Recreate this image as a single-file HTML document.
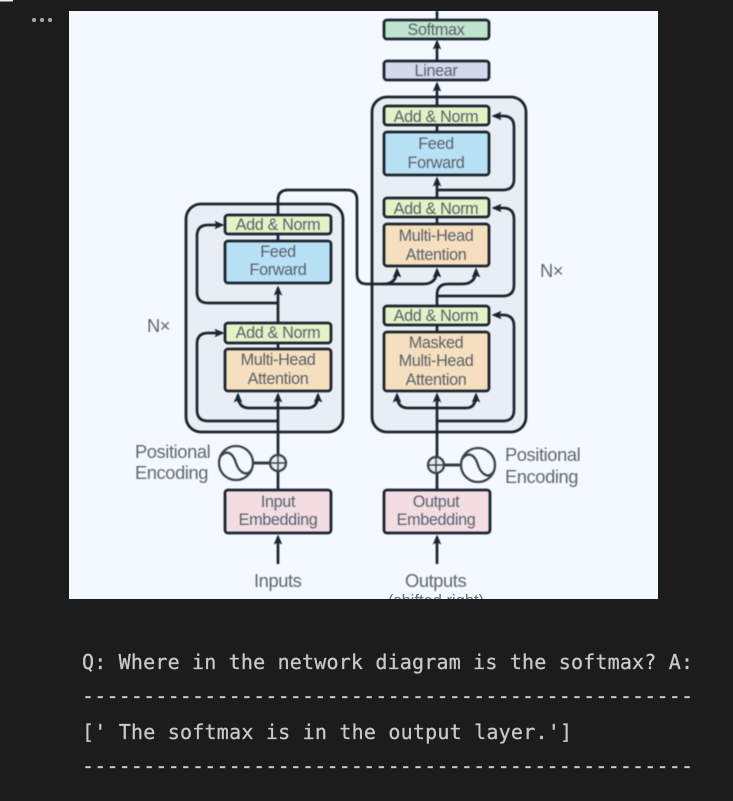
<!DOCTYPE html>
<html><head><meta charset="utf-8"><style>
html,body{margin:0;padding:0;background:#1c1c1c;width:733px;height:801px;overflow:hidden}
svg{display:block}
.d{filter:blur(.45px)}
.d text{font-family:"Liberation Sans",sans-serif;font-size:16.2px;fill:#58616a;text-anchor:middle;letter-spacing:-.35px}
.d .l{font-size:18.3px;fill:#5f6770;text-anchor:start;letter-spacing:-.4px}
.m{font-family:"DejaVu Sans Mono","Liberation Mono",monospace;font-size:20px;fill:#cacaca;stroke:#cacaca;stroke-width:.25px;filter:blur(.35px)}
.b{stroke:#1b2530;stroke-width:2.8}
.w{fill:none;stroke:#1b2530;stroke-width:2.7}
</style></head><body>
<svg width="733" height="801" viewBox="0 0 733 801" xmlns="http://www.w3.org/2000/svg">
<defs><marker id="a" markerWidth="11" markerHeight="10" refX="7.5" refY="5" orient="auto" markerUnits="userSpaceOnUse"><path d="M0 .7L10 5L0 9.3L2 5Z" fill="#1b2530"/></marker></defs>
<rect width="733" height="801" fill="#1c1c1c"/>
<rect x="0" y="0" width="13" height="1.5" fill="#eee"/>
<circle cx="34" cy="20" r="2" fill="#aaa"/><circle cx="42" cy="20" r="2" fill="#aaa"/><circle cx="50" cy="20" r="2" fill="#aaa"/>
<rect x="69" y="11" width="589" height="588" fill="#f3f9fe"/>
<g class="d">
<rect x="186" y="204" width="157" height="228" rx="15" fill="#e9eef4" class="b"/>
<rect x="372" y="97" width="154" height="335" rx="15" fill="#e9eef4" class="b"/>

<path class="w" d="M437 11V19"/>
<path class="w" marker-end="url(#a)" d="M437 60V42"/>
<path class="w" marker-end="url(#a)" d="M437 106V84"/>
<path class="w" marker-end="url(#a)" d="M437 198V179"/>
<path class="w" d="M437 125V132M437 217V224M437 325V332"/>
<path class="w" marker-end="url(#a)" d="M437 190H503Q514 190 514 179V127Q514 116 503 116H494"/>
<path class="w" marker-end="url(#a)" d="M437 296H503Q514 296 514 285V219Q514 208 503 208H494"/>
<path class="w" marker-end="url(#a)" d="M437 421H503Q514 421 514 410V326Q514 315 503 315H494"/>
<path class="w" d="M437 305V295Q437 284 448 284H462"/>
<path class="w" marker-end="url(#a)" d="M462 284Q476 284 476 270"/>
<path class="w" marker-end="url(#a)" d="M278 215V200Q278 190 288 190H347Q357 190 357 200V274Q357 284 367 284H423Q437 284 437 270"/>
<path class="w" marker-end="url(#a)" d="M383 284Q397 284 397 270"/>
<path class="w" marker-end="url(#a)" d="M437 490V395"/>
<path class="w" marker-end="url(#a)" d="M437 408H408Q397 408 397 395"/>
<path class="w" marker-end="url(#a)" d="M437 408H466Q476 408 476 395"/>
<path class="w" marker-end="url(#a)" d="M437 564V537"/>

<path class="w" d="M278 234V241M278 343V349"/>
<path class="w" marker-end="url(#a)" d="M278 323V288"/>
<path class="w" marker-end="url(#a)" d="M278 303H208Q197 303 197 292V236Q197 225 208 225H222"/>
<path class="w" marker-end="url(#a)" d="M278 421H208Q197 421 197 410V344Q197 333 208 333H222"/>
<path class="w" marker-end="url(#a)" d="M278 490V395"/>
<path class="w" marker-end="url(#a)" d="M278 408H249Q238 408 238 395"/>
<path class="w" marker-end="url(#a)" d="M278 408H307Q318 408 318 395"/>
<path class="w" marker-end="url(#a)" d="M278 564V537"/>

<rect x="384" y="20" width="105" height="19" rx="3" fill="#c0e4cd" class="b"/>
<rect x="384" y="61" width="105" height="19" rx="3" fill="#d3daee" class="b"/>
<rect x="384" y="106" width="105" height="19" rx="3" fill="#e5f2c8" class="b"/>
<rect x="384" y="132" width="105" height="43" rx="3" fill="#b9e1f6" class="b"/>
<rect x="384" y="198" width="105" height="19" rx="3" fill="#e5f2c8" class="b"/>
<rect x="384" y="224" width="105" height="42" rx="3" fill="#f6dfbe" class="b"/>
<rect x="384" y="306" width="105" height="19" rx="3" fill="#e5f2c8" class="b"/>
<rect x="384" y="332" width="105" height="59" rx="3" fill="#f6dfbe" class="b"/>
<rect x="225" y="215" width="106" height="19" rx="3" fill="#e5f2c8" class="b"/>
<rect x="225" y="241" width="106" height="42" rx="3" fill="#b9e1f6" class="b"/>
<rect x="225" y="323" width="106" height="20" rx="3" fill="#e5f2c8" class="b"/>
<rect x="225" y="349" width="106" height="42" rx="3" fill="#f6dfbe" class="b"/>
<rect x="225" y="490" width="106" height="43" rx="3" fill="#f3dde3" class="b"/>
<rect x="384" y="490" width="106" height="43" rx="3" fill="#f3dde3" class="b"/>

<path d="M253 463H270M444 465H461" stroke="#333c45" stroke-width="3"/>
<g fill="none" stroke="#3a434c" stroke-width="2.3">
<circle cx="278" cy="463" r="8" fill="#e9eef4"/><path d="M270 463H286M278 455V471" stroke-width="1.5"/>
<circle cx="436" cy="465" r="8" fill="#e9eef4"/><path d="M428 465H444M436 457V473" stroke-width="1.5"/>
<circle cx="236" cy="463" r="17" fill="#f3f9fe"/><path d="M220 457C228 447 234 456 236 463S246 479 252 469"/>
<circle cx="478" cy="465" r="17" fill="#f3f9fe"/><path d="M462 459C470 449 476 458 478 465S488 481 494 471"/>
</g>

<text x="436" y="35">Softmax</text>
<text x="436" y="76">Linear</text>
<text x="436" y="122">Add &amp; Norm</text>
<text x="436" y="149">Feed</text>
<text x="436" y="168">Forward</text>
<text x="436" y="214">Add &amp; Norm</text>
<text x="436" y="241">Multi-Head</text>
<text x="436" y="260">Attention</text>
<text x="436" y="321">Add &amp; Norm</text>
<text x="436" y="348">Masked</text>
<text x="436" y="366">Multi-Head</text>
<text x="436" y="385">Attention</text>
<text x="278" y="230">Add &amp; Norm</text>
<text x="278" y="257">Feed</text>
<text x="278" y="275">Forward</text>
<text x="278" y="338">Add &amp; Norm</text>
<text x="278" y="365">Multi-Head</text>
<text x="278" y="384">Attention</text>
<text x="278" y="507">Input</text>
<text x="278" y="525">Embedding</text>
<text x="436" y="507">Output</text>
<text x="436" y="525">Embedding</text>
<text class="l" x="135" y="458">Positional</text>
<text class="l" x="135" y="479">Encoding</text>
<text class="l" x="505" y="461">Positional</text>
<text class="l" x="505" y="483">Encoding</text>
<text class="l" x="147" y="332">N×</text>
<text class="l" x="540" y="277">N×</text>
<text class="l" x="254" y="587">Inputs</text>
<text class="l" x="405" y="587">Outputs</text>
</g>
<svg x="69" y="11" width="589" height="588" viewBox="69 11 589 588"><text x="436" y="606" style="font-family:'Liberation Sans',sans-serif;font-size:16.5px;fill:#646c74;text-anchor:middle">(shifted right)</text></svg>

<text class="m" x="82" y="669" textLength="611" lengthAdjust="spacing">Q: Where in the network diagram is the softmax? A:</text>
<text class="m" x="82" y="703" textLength="611" lengthAdjust="spacing">--------------------------------------------------</text>
<text class="m" x="82" y="739" textLength="490" lengthAdjust="spacing">[' The softmax is in the output layer.']</text>
<text class="m" x="82" y="773" textLength="611" lengthAdjust="spacing">--------------------------------------------------</text>
</svg>
</body></html>
